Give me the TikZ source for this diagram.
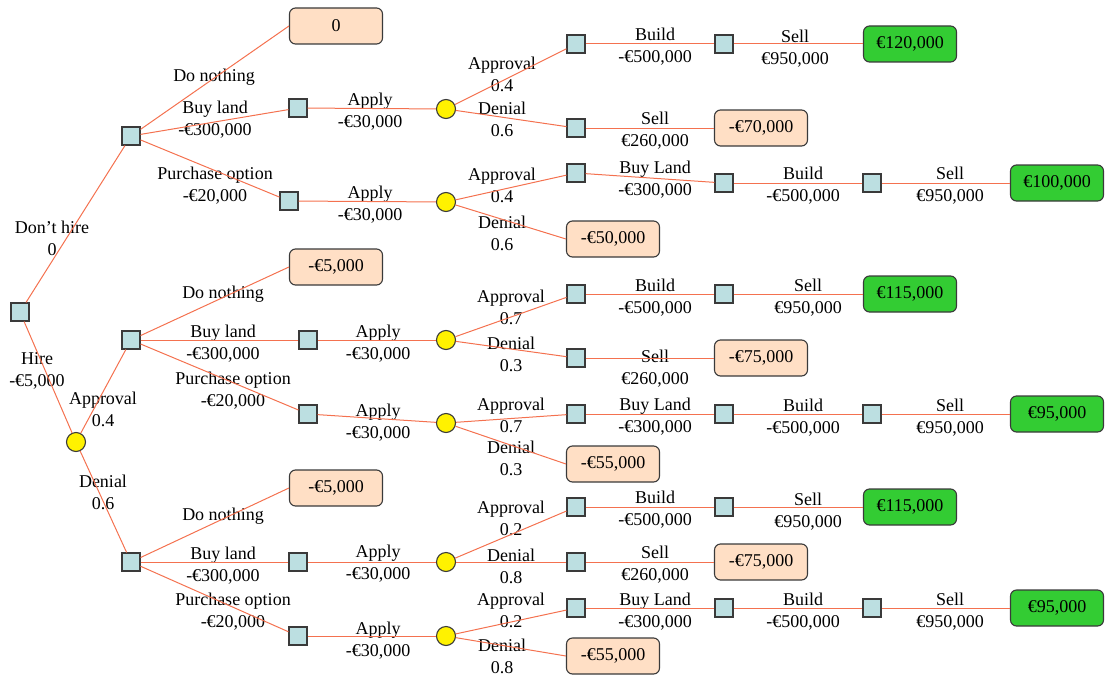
\documentclass[tikz,border=0pt]{standalone}
\usepackage{fontspec}
\setmainfont{Liberation Serif}
\newcommand\fs{\fontsize{18}{22}\selectfont}
\definecolor{edgec}{HTML}{F4714F}
\definecolor{sqfill}{HTML}{BCDFE1}
\definecolor{peach}{HTML}{FFDFC5}
\definecolor{winc}{HTML}{33CC33}
\definecolor{bord}{HTML}{3A3A3A}
\begin{document}
\begin{tikzpicture}[x=1pt,y=-1pt,
 dec/.style={draw=bord,fill=sqfill,minimum size=18pt,inner sep=0pt,line width=1.1pt},
 chance/.style={circle,draw=bord,fill=yellow,minimum size=19pt,inner sep=0pt,line width=1.1pt},
 term/.style={draw=bord,fill=peach,rounded corners=6pt,minimum width=93pt,minimum height=36pt,inner sep=0pt,line width=1.1pt,font=\fs},
 win/.style={term,fill=winc},
 lbl/.style={align=center,inner sep=0pt,font=\fs,yshift=-1.5pt},
 br/.style={draw=edgec,line width=1pt}]
\useasboundingbox (0,0) rectangle (1110,677);

% ---- root
\node[dec] (r) at (20,312) {};
\node[dec] (d1) at (131,136) {};
\node[chance] (ch) at (76,442) {};
\node[lbl] (l-dh) at (52,237) {Don’t hire\\0};
\node[lbl] (l-h) at (37,369) {Hire\\-€5,000};

% ---- top block
\node[term] (t0) at (336,26) {0};
\node[dec] (a1) at (298,108) {};
\node[dec] (b1) at (289,201) {};
\node[lbl] (l1a) at (214,76) {Do nothing};
\node[lbl] (l1b) at (215,118) {Buy land\\-€300,000};
\node[lbl] (l1c) at (215,184) {Purchase option\\-€20,000};
\node[chance] (ca1) at (446,109) {};
\node[chance] (cb1) at (446,202) {};
\node[lbl] (l1d) at (370,110) {Apply\\-€30,000};
\node[lbl] (l1e) at (370,203) {Apply\\-€30,000};
\node[dec] (a1y) at (576,44) {};
\node[dec] (a1n) at (576,128) {};
\node[lbl] (l1f) at (502,73) {Approval\\0.4};
\node[lbl] (l1g) at (502,118) {Denial\\0.6};
\node[dec] (a1b) at (724,44) {};
\node[lbl] (l1h) at (655,45) {Build\\-€500,000};
\node[win] (a1w) at (910,44) {€120,000};
\node[lbl] (l1i) at (795,47) {Sell\\€950,000};
\node[term] (a1t) at (761,128) {-€70,000};
\node[lbl] (l1j) at (655,129) {Sell\\€260,000};
\node[dec] (b1y) at (576,173) {};
\node[term] (b1t) at (613,239) {-€50,000};
\node[lbl] (l1k) at (502,184) {Approval\\0.4};
\node[lbl] (l1l) at (502,232) {Denial\\0.6};
\node[dec] (b1l) at (724,183) {};
\node[lbl] (l1m) at (655,178) {Buy Land\\-€300,000};
\node[dec] (b1b) at (872,183) {};
\node[lbl] (l1n) at (803,184) {Build\\-€500,000};
\node[win] (b1w) at (1057,183) {€100,000};
\node[lbl] (l1o) at (950,184) {Sell\\€950,000};

% ---- middle block
\node[dec] (d2) at (131,340) {};
\node[lbl] (l-ap) at (103,408) {Approval\\0.4};
\node[lbl] (l-dn) at (103,491) {Denial\\0.6};
\node[term] (t2) at (336,267) {-€5,000};
\node[lbl] (l2a) at (223,293) {Do nothing};
\node[dec] (a2) at (308,340) {};
\node[lbl] (l2b) at (223,342) {Buy land\\-€300,000};
\node[dec] (b2) at (308,414) {};
\node[lbl] (l2c) at (233,389) {Purchase option\\-€20,000};
\node[chance] (ca2) at (446,340) {};
\node[lbl] (l2d) at (378,342) {Apply\\-€30,000};
\node[chance] (cb2) at (446,423) {};
\node[lbl] (l2e) at (378,421) {Apply\\-€30,000};
\node[dec] (a2y) at (576,294) {};
\node[dec] (a2n) at (576,358) {};
\node[lbl] (l2f) at (511,306) {Approval\\0.7};
\node[lbl] (l2g) at (511,353) {Denial\\0.3};
\node[dec] (a2b) at (724,294) {};
\node[lbl] (l2h) at (655,296) {Build\\-€500,000};
\node[win] (a2w) at (910,294) {€115,000};
\node[lbl] (l2i) at (808,296) {Sell\\€950,000};
\node[term] (a2t) at (761,358) {-€75,000};
\node[lbl] (l2j) at (655,367) {Sell\\€260,000};
\node[dec] (b2y) at (576,414) {};
\node[term] (b2t) at (613,464) {-€55,000};
\node[lbl] (l2k) at (511,414) {Approval\\0.7};
\node[lbl] (l2l) at (511,457) {Denial\\0.3};
\node[dec] (b2l) at (724,414) {};
\node[lbl] (l2m) at (655,415) {Buy Land\\-€300,000};
\node[dec] (b2b) at (872,414) {};
\node[lbl] (l2n) at (803,416) {Build\\-€500,000};
\node[win] (b2w) at (1057,414) {€95,000};
\node[lbl] (l2o) at (950,416) {Sell\\€950,000};

% ---- bottom block
\node[dec] (d3) at (131,562) {};
\node[term] (t3) at (336,488) {-€5,000};
\node[lbl] (l3a) at (223,515) {Do nothing};
\node[dec] (a3) at (298,562) {};
\node[lbl] (l3b) at (223,564) {Buy land\\-€300,000};
\node[dec] (b3) at (298,636) {};
\node[lbl] (l3c) at (233,610) {Purchase option\\-€20,000};
\node[chance] (ca3) at (446,562) {};
\node[lbl] (l3d) at (378,562) {Apply\\-€30,000};
\node[chance] (cb3) at (446,636) {};
\node[lbl] (l3e) at (378,639) {Apply\\-€30,000};
\node[dec] (a3y) at (576,507) {};
\node[dec] (a3n) at (576,562) {};
\node[lbl] (l3f) at (511,517) {Approval\\0.2};
\node[lbl] (l3g) at (511,565) {Denial\\0.8};
\node[dec] (a3b) at (724,507) {};
\node[lbl] (l3h) at (655,508) {Build\\-€500,000};
\node[win] (a3w) at (910,507) {€115,000};
\node[lbl] (l3i) at (808,510) {Sell\\€950,000};
\node[term] (a3t) at (761,562) {-€75,000};
\node[lbl] (l3j) at (655,563) {Sell\\€260,000};
\node[dec] (b3y) at (576,608) {};
\node[term] (b3t) at (613,656) {-€55,000};
\node[lbl] (l3k) at (511,609) {Approval\\0.2};
\node[lbl] (l3l) at (502,655) {Denial\\0.8};
\node[dec] (b3l) at (724,608) {};
\node[lbl] (l3m) at (655,610) {Buy Land\\-€300,000};
\node[dec] (b3b) at (872,608) {};
\node[lbl] (l3n) at (803,610) {Build\\-€500,000};
\node[win] (b3w) at (1057,608) {€95,000};
\node[lbl] (l3o) at (950,610) {Sell\\€950,000};

% ---- connectors
\draw[br] (r) -- (d1);
\draw[br] (r) -- (ch);
\draw[br] (ch) -- (d2);
\draw[br] (ch) -- (d3);

\draw[br] (d1) -- (t0.west);
\draw[br] (d1) -- (a1);
\draw[br] (d1) -- (b1);
\draw[br] (a1) -- (ca1);
\draw[br] (b1) -- (cb1);
\draw[br] (ca1) -- (a1y);
\draw[br] (ca1) -- (a1n);
\draw[br] (a1y) -- (a1b);
\draw[br] (a1b) -- (a1w.west);
\draw[br] (a1n) -- (a1t.west);
\draw[br] (cb1) -- (b1y);
\draw[br] (cb1) -- (b1t.west);
\draw[br] (b1y) -- (b1l);
\draw[br] (b1l) -- (b1b);
\draw[br] (b1b) -- (b1w.west);

\draw[br] (d2) -- (t2.west);
\draw[br] (d2) -- (a2);
\draw[br] (d2) -- (b2);
\draw[br] (a2) -- (ca2);
\draw[br] (b2) -- (cb2);
\draw[br] (ca2) -- (a2y);
\draw[br] (ca2) -- (a2n);
\draw[br] (a2y) -- (a2b);
\draw[br] (a2b) -- (a2w.west);
\draw[br] (a2n) -- (a2t.west);
\draw[br] (cb2) -- (b2y);
\draw[br] (cb2) -- (b2t.west);
\draw[br] (b2y) -- (b2l);
\draw[br] (b2l) -- (b2b);
\draw[br] (b2b) -- (b2w.west);

\draw[br] (d3) -- (t3.west);
\draw[br] (d3) -- (a3);
\draw[br] (d3) -- (b3);
\draw[br] (a3) -- (ca3);
\draw[br] (b3) -- (cb3);
\draw[br] (ca3) -- (a3y);
\draw[br] (ca3) -- (a3n);
\draw[br] (a3y) -- (a3b);
\draw[br] (a3b) -- (a3w.west);
\draw[br] (a3n) -- (a3t.west);
\draw[br] (cb3) -- (b3y);
\draw[br] (cb3) -- (b3t.west);
\draw[br] (b3y) -- (b3l);
\draw[br] (b3l) -- (b3b);
\draw[br] (b3b) -- (b3w.west);
\end{tikzpicture}
\end{document}
